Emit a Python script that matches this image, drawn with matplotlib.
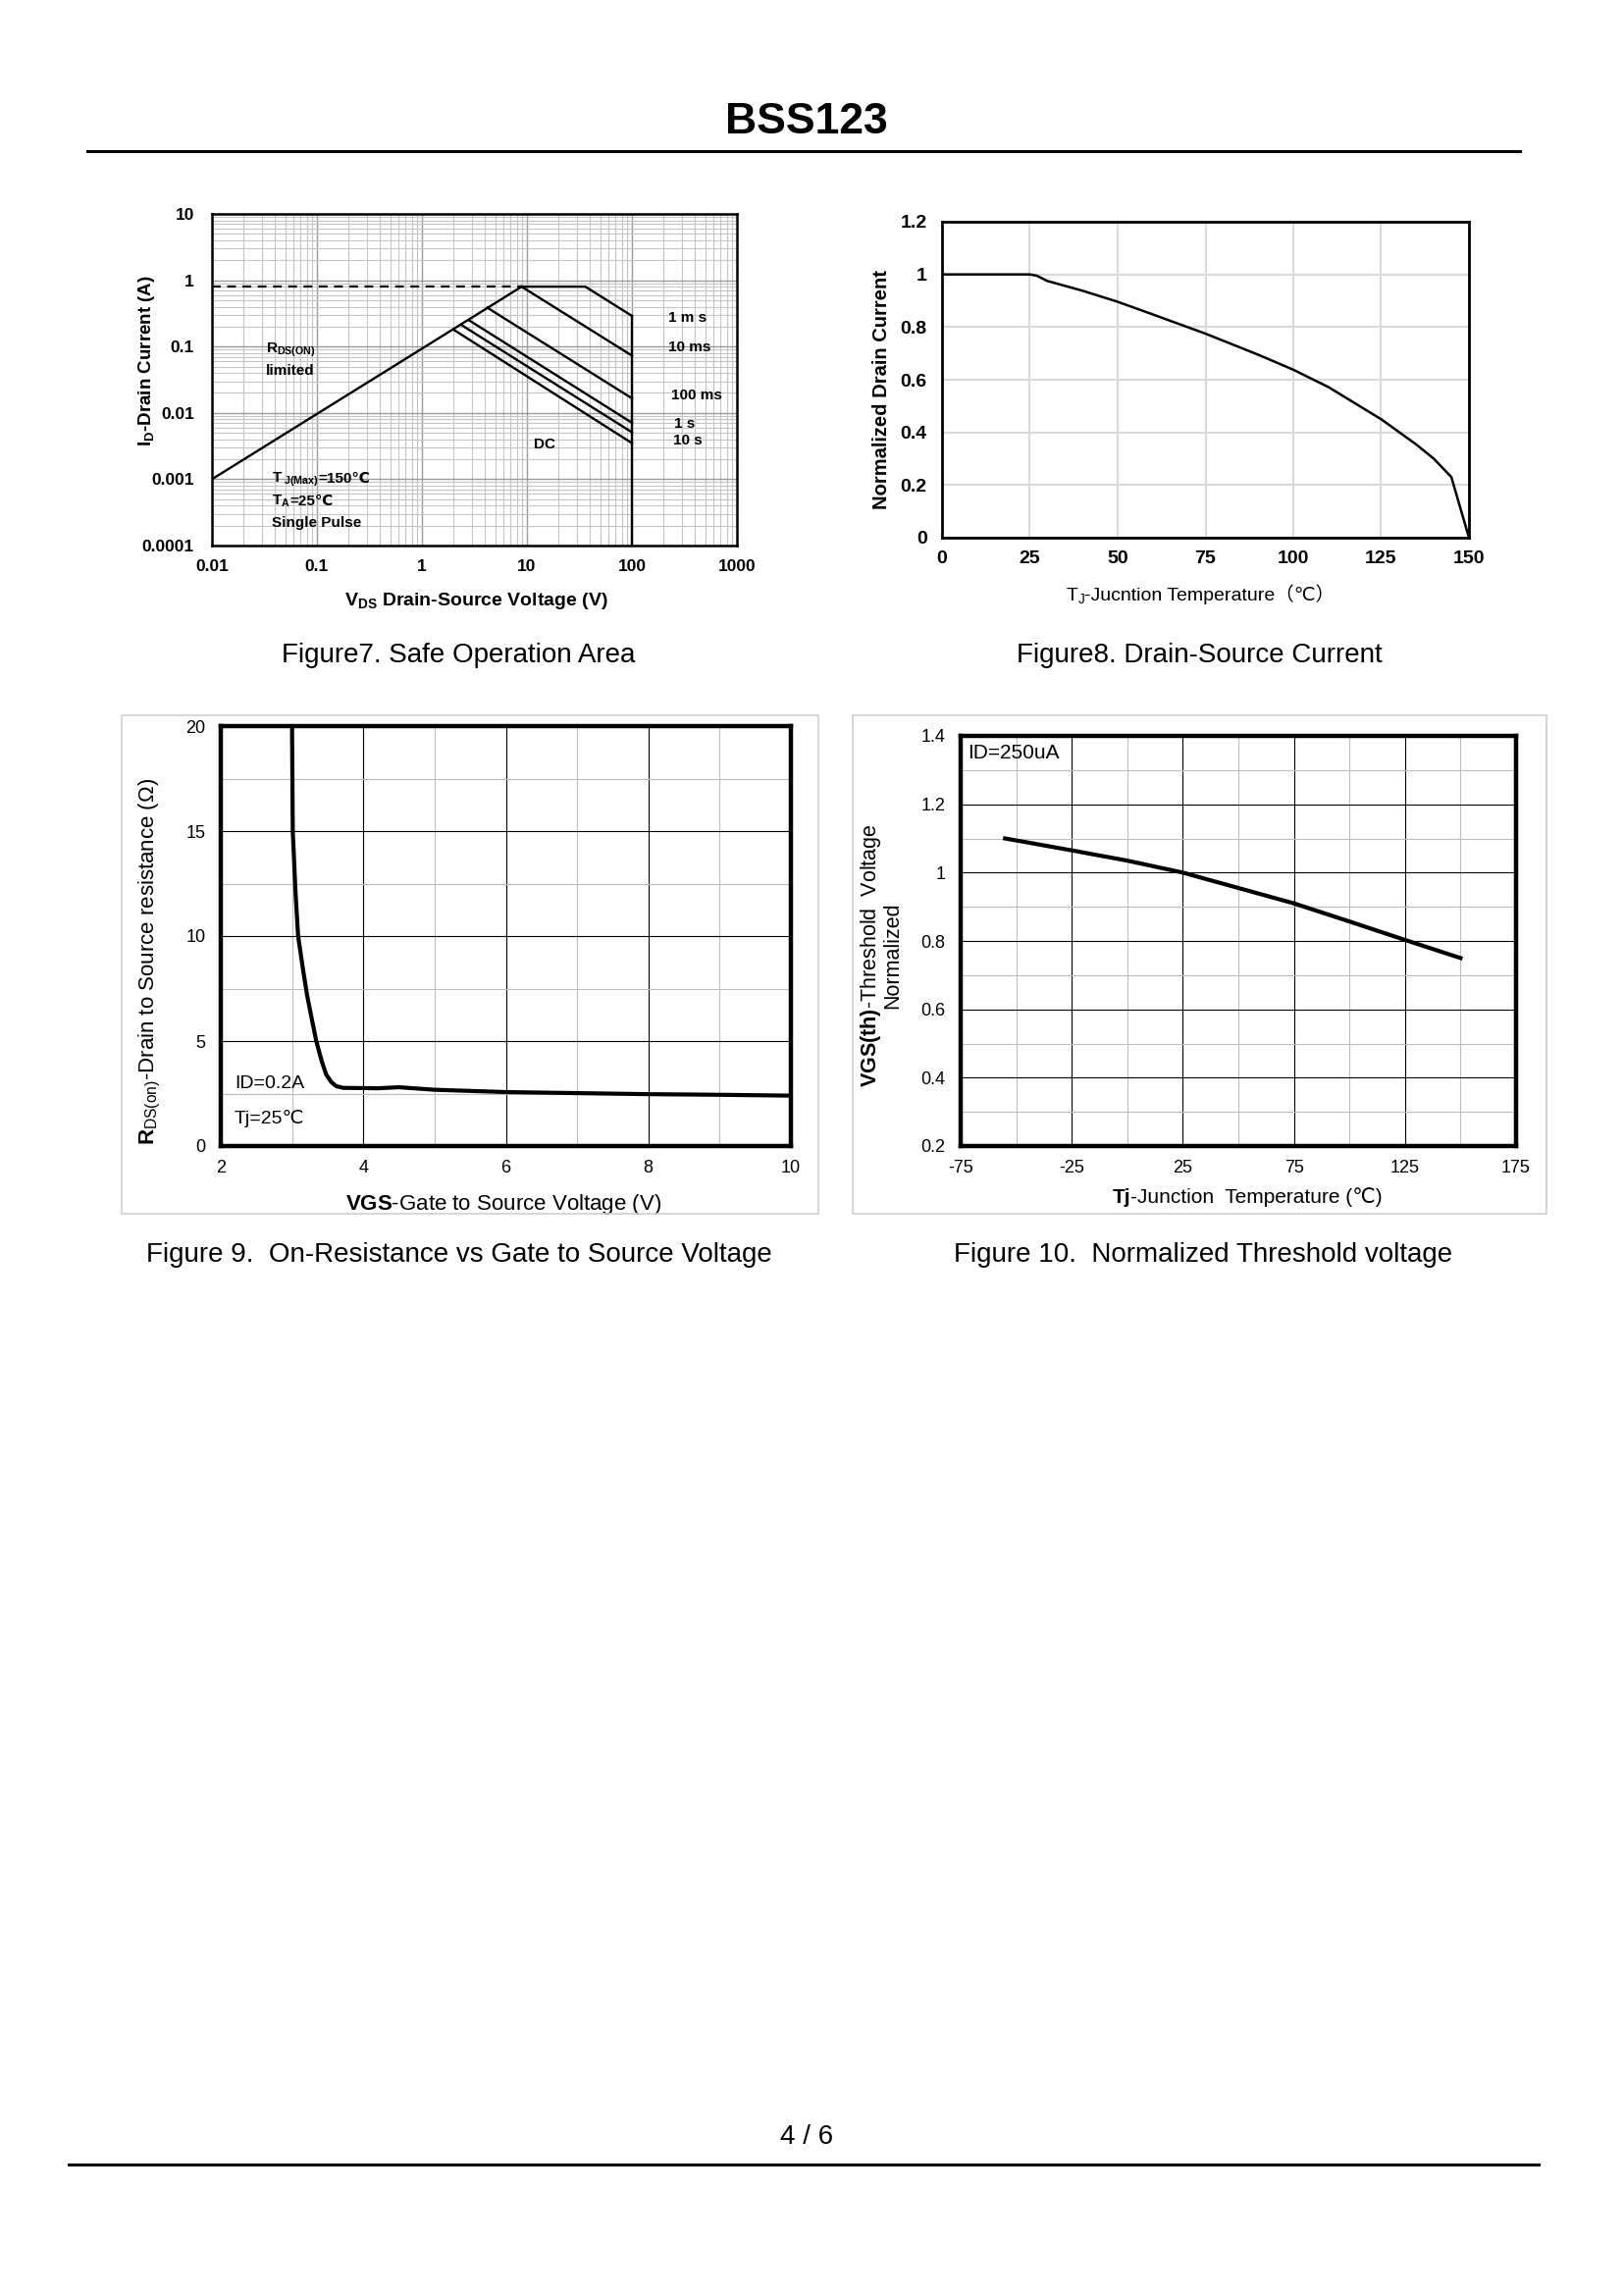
import matplotlib
matplotlib.use("Agg")
import matplotlib.pyplot as plt
from matplotlib.patches import Rectangle
from matplotlib.lines import Line2D
from matplotlib.ticker import FixedLocator, LogLocator, NullFormatter

plt.rcParams['font.family'] = ['Liberation Sans', 'DejaVu Sans', 'Noto Sans CJK SC']
plt.rcParams['mathtext.fontset'] = 'custom'
plt.rcParams['mathtext.rm'] = 'Liberation Sans'
plt.rcParams['mathtext.bf'] = 'Liberation Sans:bold'
plt.rcParams['mathtext.it'] = 'Liberation Sans:italic'
plt.rcParams['axes.unicode_minus'] = False

# ---- Figure 7: safe operating area (log-log) ----
soa_xticks = [0.01, 0.1, 1, 10, 100, 1000]
soa_xlabels = ["0.01", "0.1", "1", "10", "100", "1000"]
soa_yticks = [0.0001, 0.001, 0.01, 0.1, 1, 10]
soa_ylabels = ["0.0001", "0.001", "0.01", "0.1", "1", "10"]
rds_v = [0.01, 8.9]
rds_i = [0.001, 0.8]
idmax_v = [0.01, 8.9]
idmax_i = [0.8, 0.8]
soa_1ms_v = [8.9, 36, 100]
soa_1ms_i = [0.8, 0.8, 0.29]
soa_10ms_v = [8.9, 100]
soa_10ms_i = [0.8, 0.073]
soa_100ms_v = [4.2, 100]
soa_100ms_i = [0.385, 0.0166]
soa_1s_v = [2.8, 100]
soa_1s_i = [0.25, 0.0071]
soa_10s_v = [2.35, 100]
soa_10s_i = [0.214, 0.0051]
soa_dc_v = [2.0, 100]
soa_dc_i = [0.18, 0.0035]
vds_limit_v = [100, 100]
vds_limit_i = [0.0001, 0.29]

# ---- Figure 8: normalized drain current vs Tj ----
tj8 = [0, 10, 20, 25, 27, 30, 40, 50, 60, 75, 90, 100, 110, 125, 135, 140, 145, 150]
id8 = [1.0, 1.0, 1.0, 1.0, 0.995, 0.975, 0.938, 0.896, 0.848, 0.775, 0.695, 0.638, 0.572, 0.45, 0.354, 0.30, 0.23, 0.0]

# ---- Figure 9: Rds(on) vs Vgs ----
vgs9 = [3.0, 3.01, 3.05, 3.085, 3.15, 3.21, 3.28, 3.34, 3.42, 3.48, 3.55, 3.62, 3.72, 4.0, 4.2, 4.5, 5.0, 6.0, 7.0, 8.0, 9.0, 10.0]
rds9 = [20, 15, 12, 10, 8.5, 7.2, 6.0, 5.0, 4.0, 3.4, 3.05, 2.85, 2.77, 2.76, 2.75, 2.8, 2.68, 2.57, 2.52, 2.47, 2.44, 2.40]

# ---- Figure 10: normalized threshold voltage vs Tj ----
tj10 = [-55, -25, 0, 25, 50, 75, 100, 125, 150]
vth10 = [1.10, 1.065, 1.035, 1.0, 0.955, 0.91, 0.857, 0.803, 0.75]

W, H = 1656, 2339


def box(l, t, r, b):
    return [l / W, 1 - b / H, (r - l) / W, (b - t) / H]


fig = plt.figure(figsize=(W / 100, H / 100), dpi=100)
renderer = fig.canvas.get_renderer()


def run_text(x_px, y_px, pieces, ha='left'):
    # lay text pieces side by side on one baseline (pixel coords from top-left)
    texts, widths = [], []
    for s, kw in pieces:
        t = fig.text(0, 0, s, va='baseline', ha='left', **kw)
        widths.append(t.get_window_extent(renderer).width)
        texts.append(t)
    x0 = x_px - (sum(widths) / 2 if ha == 'center' else 0)
    for t, w in zip(texts, widths):
        t.set_position((x0 / W, 1 - y_px / H))
        x0 += w


def data_px(ax, x, y):
    d = ax.transData.transform((x, y))
    return d[0], H - d[1]


# page header / footer
fig.text(822 / W, 1 - 125 / H, "BSS123", ha='center', va='center', fontsize=32, weight='bold')
fig.add_artist(Line2D([89 / W, 1549 / W], [1 - 154 / H] * 2, color='black', lw=2.2))
fig.text(822 / W, 1 - 2178 / H, "4 / 6", ha='center', va='center', fontsize=20)
fig.add_artist(Line2D([70 / W, 1568 / W], [1 - 2206 / H] * 2, color='black', lw=2.2))

# ---------------- Figure 7 ----------------
ax1 = fig.add_axes(box(216, 218, 751, 556))
ax1.set_xscale('log')
ax1.set_yscale('log')
ax1.set_xlim(0.01, 1000)
ax1.set_ylim(0.0001, 10)
ax1.xaxis.set_major_locator(FixedLocator(soa_xticks))
ax1.set_xticklabels(soa_xlabels)
ax1.yaxis.set_major_locator(FixedLocator(soa_yticks))
ax1.set_yticklabels(soa_ylabels)
for a in (ax1.xaxis, ax1.yaxis):
    a.set_minor_locator(LogLocator(base=10, subs=range(2, 10), numticks=30))
    a.set_minor_formatter(NullFormatter())
ax1.grid(which='major', color='#9a9a9a', lw=1.0)
ax1.grid(which='minor', color='#c4c4c4', lw=0.8)
ax1.set_axisbelow(True)
ax1.tick_params(which='both', length=0, labelsize=12.5)
ax1.tick_params(axis='y', pad=13)
ax1.tick_params(axis='x', pad=10)
for lbl in ax1.get_xticklabels() + ax1.get_yticklabels():
    lbl.set_fontweight('bold')
for s in ax1.spines.values():
    s.set_linewidth(1.8)

ax1.plot(idmax_v, idmax_i, color='black', lw=1.6, ls=(0, (4, 3)))
for v, i in [(rds_v, rds_i), (soa_1ms_v, soa_1ms_i), (soa_10ms_v, soa_10ms_i),
             (soa_100ms_v, soa_100ms_i), (soa_1s_v, soa_1s_i), (soa_10s_v, soa_10s_i),
             (soa_dc_v, soa_dc_i), (vds_limit_v, vds_limit_i)]:
    ax1.plot(v, i, color='black', lw=1.7)

kw = dict(fontsize=11, weight='bold', va='center', ha='left')
ax1.text(220, 0.274, "1 m s", **kw)
ax1.text(220, 0.097, "10 ms", **kw)
ax1.text(235, 0.0186, "100 ms", **kw)
ax1.text(255, 0.0068, "1 s", **kw)
ax1.text(245, 0.0038, "10 s", **kw)
ax1.text(11.6, 0.0033, "DC", **kw)
ax1.text(0.0324, 0.0885, r"R$\mathregular{_{DS(ON)}}$", **kw)
ax1.text(0.0324, 0.0425, "limited", **kw)
ax1.text(0.037, 0.00022, "Single Pulse", **kw)
bkw = dict(fontsize=11, weight='bold')
x_px, y_px = data_px(ax1, 0.037, 0.00105)
run_text(x_px, y_px + 5, [(r"T$\mathregular{_{\ J(Max)}}$", bkw), ("=150℃", bkw)])
x_px, y_px = data_px(ax1, 0.037, 0.00048)
run_text(x_px, y_px + 5, [(r"T$\mathregular{_A}$", bkw), ("=25℃", bkw)])

ax1.set_xlabel(r"V$\mathregular{_{DS}}$ Drain-Source Voltage (V)", fontsize=14, weight='bold')
ax1.set_ylabel(r"I$\mathregular{_D}$-Drain Current (A)", fontsize=13.5, weight='bold')
ax1.xaxis.set_label_coords(0.504, -0.137)
ax1.yaxis.set_label_coords(-0.105, 0.558)
fig.text(467 / W, 1 - 668 / H, "Figure7. Safe Operation Area", ha='center', va='center', fontsize=20)

# ---------------- Figure 8 ----------------
ax2 = fig.add_axes(box(960, 226, 1497, 548))
ax2.set_xlim(0, 150)
ax2.set_ylim(0, 1.2)
ax2.set_xticks([0, 25, 50, 75, 100, 125, 150])
ax2.set_yticks([0, 0.2, 0.4, 0.6, 0.8, 1.0, 1.2])
ax2.set_yticklabels(["0", "0.2", "0.4", "0.6", "0.8", "1", "1.2"])
ax2.grid(color='#d9d9d9', lw=1.5)
ax2.set_axisbelow(True)
ax2.tick_params(length=0, labelsize=14)
ax2.tick_params(axis='y', pad=11)
ax2.tick_params(axis='x', pad=9)
for lbl in ax2.get_xticklabels() + ax2.get_yticklabels():
    lbl.set_fontweight('bold')
for s in ax2.spines.values():
    s.set_linewidth(2.0)
ax2.plot(tj8, id8, color='black', lw=1.8)
run_text(1223, 612, [(r"T$\mathregular{_J}$", dict(fontsize=14)),
                     ("-Jucntion Temperature（℃）", dict(fontsize=14))], ha='center')
ax2.set_ylabel("Normalized Drain Current", fontsize=14.5, weight='bold')
ax2.yaxis.set_label_coords(-0.096, 0.47)
fig.text(1222 / W, 1 - 668 / H, "Figure8. Drain-Source Current", ha='center', va='center', fontsize=20)

# ---------------- Figure 9 ----------------
fig.add_artist(Rectangle((124 / W, 1 - 1237 / H), (834 - 124) / W, (1237 - 729) / H,
                         transform=fig.transFigure, fill=False, ec='#d0d0d0', lw=1.2))
ax3 = fig.add_axes(box(225, 740, 806, 1168))
ax3.set_xlim(2, 10)
ax3.set_ylim(0, 20)
ax3.set_xticks([2, 4, 6, 8, 10])
ax3.set_xticks([3, 5, 7, 9], minor=True)
ax3.set_yticks([0, 5, 10, 15, 20])
ax3.set_yticks([2.5, 7.5, 12.5, 17.5], minor=True)
ax3.grid(which='major', color='black', lw=0.8)
ax3.grid(which='minor', color='#bdbdbd', lw=0.8)
ax3.set_axisbelow(True)
ax3.tick_params(which='both', length=0, labelsize=13)
ax3.tick_params(axis='y', pad=11)
ax3.tick_params(axis='x', pad=10)
for s in ax3.spines.values():
    s.set_linewidth(3.2)
ax3.plot(vgs9, rds9, color='black', lw=3.0)
ax3.text(2.19, 2.96, "ID=0.2A", fontsize=14, va='center', ha='left')
ax3.text(2.19, 1.32, "Tj=25℃", fontsize=14, va='center', ha='left')
ax3.set_xlabel(r"$\mathbf{VGS}$-Gate to Source Voltage (V)", fontsize=16)
ax3.set_ylabel(r"$\mathbf{R}\mathregular{_{DS(on)}}$-Drain to Source resistance (Ω)", fontsize=16)
ax3.xaxis.set_label_coords(0.495, -0.11)
ax3.yaxis.set_label_coords(-0.102, 0.44)
fig.text(468 / W, 1 - 1279 / H, "Figure 9.  On-Resistance vs Gate to Source Voltage",
         ha='center', va='center', fontsize=20)

# ---------------- Figure 10 ----------------
fig.add_artist(Rectangle((869 / W, 1 - 1237 / H), (1576 - 869) / W, (1237 - 729) / H,
                         transform=fig.transFigure, fill=False, ec='#d0d0d0', lw=1.2))
ax4 = fig.add_axes(box(979, 750, 1545, 1168))
ax4.set_xlim(-75, 175)
ax4.set_ylim(0.2, 1.4)
ax4.set_xticks([-75, -25, 25, 75, 125, 175])
ax4.set_xticks([-50, 0, 50, 100, 150], minor=True)
ax4.set_yticks([0.2, 0.4, 0.6, 0.8, 1.0, 1.2, 1.4])
ax4.set_yticklabels(["0.2", "0.4", "0.6", "0.8", "1", "1.2", "1.4"])
ax4.set_yticks([0.3, 0.5, 0.7, 0.9, 1.1, 1.3], minor=True)
ax4.grid(which='major', color='black', lw=0.8)
ax4.grid(which='minor', color='#bdbdbd', lw=0.8)
ax4.set_axisbelow(True)
ax4.tick_params(which='both', length=0, labelsize=13)
ax4.tick_params(axis='y', pad=11)
ax4.tick_params(axis='x', pad=10)
for s in ax4.spines.values():
    s.set_linewidth(3.2)
ax4.plot(tj10, vth10, color='black', lw=3.0)
ax4.text(-72, 1.35, "ID=250uA", fontsize=15, va='center', ha='left')
run_text(1271, 1226, [("Tj", dict(fontsize=15, weight='bold')),
                      ("-Junction  Temperature (℃)", dict(fontsize=15))], ha='center')
ax4.set_ylabel("$\\mathbf{VGS(th)}$-Threshold  Voltage\nNormalized", fontsize=15.5, linespacing=0.95)
ax4.yaxis.set_label_coords(-0.104, 0.465)
fig.text(1226 / W, 1 - 1279 / H, "Figure 10.  Normalized Threshold voltage",
         ha='center', va='center', fontsize=20)

fig.savefig("out.png", dpi=100)
